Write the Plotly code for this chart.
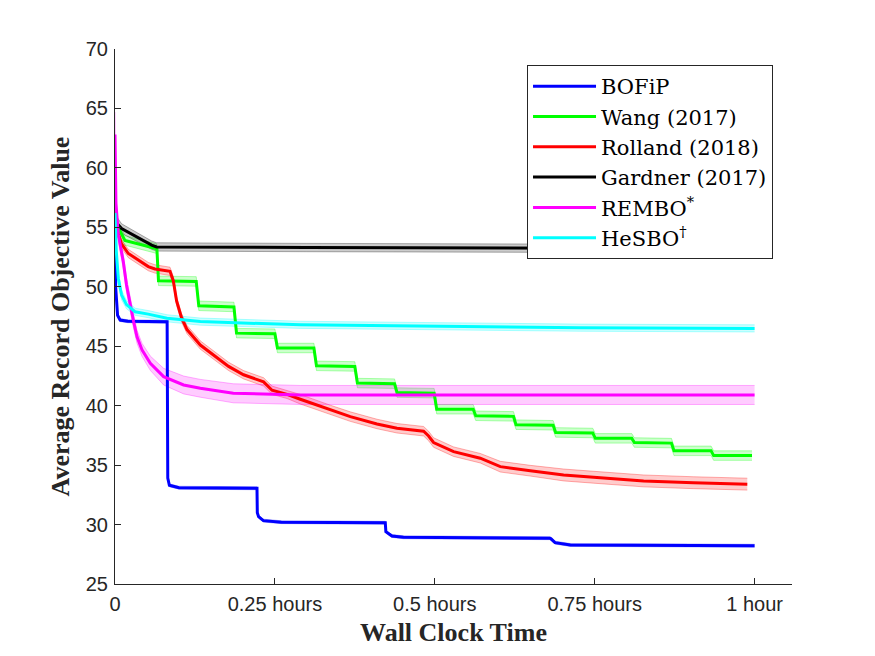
import plotly.graph_objs as go

# time in hours, values = average record objective, err = half width of shaded band
bofip_t = [0, 0.001, 0.004, 0.008, 0.02, 0.0815, 0.0825, 0.085, 0.1, 0.222, 0.2225, 0.2245, 0.232, 0.26,
           0.4226, 0.4235, 0.433, 0.451, 0.68, 0.6817, 0.688, 0.712, 1.0]
bofip_y = [56.2, 50.0, 47.6, 47.2, 47.1, 47.05, 33.9, 33.3, 33.1, 33.05, 31.0, 30.66, 30.33, 30.2,
           30.15, 29.4, 29.04, 28.93, 28.85, 28.8, 28.48, 28.28, 28.22]
bofip_err = [0.12] * len(bofip_t)

wang_t = [0, 0.003, 0.0155, 0.06, 0.0655, 0.068, 0.127, 0.131, 0.186, 0.190, 0.250, 0.254, 0.311, 0.315,
          0.375, 0.379, 0.437, 0.441, 0.499, 0.503, 0.560, 0.564, 0.623, 0.627, 0.685, 0.689, 0.747, 0.751,
          0.808, 0.812, 0.870, 0.874, 0.932, 0.936, 0.996]
wang_y = [56.5, 55.2, 53.9, 53.3, 53.2, 50.5, 50.45, 48.4, 48.3, 46.1, 46.05, 44.85, 44.85, 43.35,
          43.3, 41.9, 41.85, 41.1, 41.05, 39.7, 39.7, 39.15, 39.1, 38.4, 38.35, 37.75, 37.7, 37.25,
          37.25, 36.9, 36.85, 36.2, 36.2, 35.8, 35.8]
wang_err = [0.4] * len(wang_t)

rolland_t = [0, 0.004, 0.0103, 0.0208, 0.0364, 0.052, 0.0625, 0.074, 0.086, 0.0912, 0.0963, 0.104, 0.1126,
             0.1334, 0.1595, 0.1776, 0.201, 0.2323, 0.2455, 0.269, 0.2897, 0.3366, 0.3679, 0.4096, 0.4409,
             0.4825, 0.4903, 0.4981, 0.5294, 0.5711, 0.6024, 0.6493, 0.7014, 0.7483, 0.8265, 0.9046, 0.9886]
rolland_y = [55.5, 54.6, 53.6, 52.8, 52.25, 51.7, 51.5, 51.4, 51.3, 50.5, 48.8, 47.4, 46.4,
             45.1, 44.0, 43.3, 42.6, 42.0, 41.3, 40.95, 40.54, 39.64, 39.08, 38.46, 38.1,
             37.85, 37.45, 36.9, 36.13, 35.58, 34.87, 34.53, 34.17, 33.98, 33.67, 33.52, 33.4]
rolland_err = [0.35] * 20 + [0.4] * 10 + [0.45, 0.45, 0.5, 0.5, 0.5, 0.5, 0.5]

gardner_t = [0, 0.0103, 0.0573, 0.065, 0.3, 0.6, 1.0]
gardner_y = [55.5, 54.9, 53.5, 53.35, 53.3, 53.25, 53.2]
gardner_err = [0.6, 0.4, 0.35, 0.35, 0.35, 0.35, 0.35]

rembo_t = [0, 0.0015, 0.0052, 0.013, 0.018, 0.0235, 0.029, 0.0344, 0.0422, 0.0552, 0.076, 0.1073, 0.1334,
           0.185, 0.29, 1.0]
rembo_y = [62.8, 57.0, 54.4, 52.1, 50.15, 48.5, 47.1, 45.8, 44.7, 43.57, 42.44, 41.74, 41.46,
           41.04, 40.9, 40.9]
rembo_err = [1.9, 0.9, 0.6, 0.6, 0.6, 0.6, 0.6, 0.55, 0.55, 0.6, 0.7, 0.75, 0.75, 0.8, 0.8, 0.8]

hesbo_t = [0, 0.002, 0.0052, 0.0103, 0.018, 0.0313, 0.052, 0.0813, 0.1334, 0.29, 0.7275, 1.0]
hesbo_y = [56.2, 53.0, 50.7, 49.3, 48.5, 47.9, 47.7, 47.35, 47.07, 46.8, 46.56, 46.5]
hesbo_err = [0.6, 0.5, 0.45, 0.4, 0.35, 0.3, 0.3, 0.3, 0.3, 0.3, 0.3, 0.3]

series = [
    ('BOFiP', bofip_t, bofip_y, bofip_err, (0, 0, 255)),
    ('Wang (2017)', wang_t, wang_y, wang_err, (0, 255, 0)),
    ('Rolland (2018)', rolland_t, rolland_y, rolland_err, (255, 0, 0)),
    ('Gardner (2017)', gardner_t, gardner_y, gardner_err, (0, 0, 0)),
    ('REMBO<sup>*</sup>', rembo_t, rembo_y, rembo_err, (255, 0, 255)),
    ('HeSBO<sup>†</sup>', hesbo_t, hesbo_y, hesbo_err, (0, 255, 255)),
]

fig = go.Figure()

# shaded bands first so all lines sit on top
for name, t, y, err, c in series:
    rgb = '%d,%d,%d' % c
    lo = [v - e for v, e in zip(y, err)]
    hi = [v + e for v, e in zip(y, err)]
    fig.add_trace(go.Scatter(x=t, y=lo, mode='lines', showlegend=False, hoverinfo='skip',
                             line=dict(color='rgba(%s,0.3)' % rgb, width=1)))
    fig.add_trace(go.Scatter(x=t, y=hi, mode='lines', fill='tonexty', showlegend=False, hoverinfo='skip',
                             fillcolor='rgba(%s,0.2)' % rgb,
                             line=dict(color='rgba(%s,0.3)' % rgb, width=1)))

for name, t, y, err, c in series:
    fig.add_trace(go.Scatter(x=t, y=y, mode='lines', name=name, legendgroup=name,
                             line=dict(color='rgb(%d,%d,%d)' % c, width=3)))

axis_col = '#262626'
tick_font = dict(family='Liberation Sans', size=20, color=axis_col)
label_font = dict(family='Liberation Serif', size=26, color=axis_col)

# the page adds an 8px body margin, so the figure is 16px smaller than the window
fig.update_layout(
    width=859, height=640,
    margin=dict(l=107, r=75, t=41, b=64),
    plot_bgcolor='white', paper_bgcolor='white',
    showlegend=True,
    legend=dict(x=0.6086, y=0.970, xanchor='left', yanchor='top',
                bgcolor='white', bordercolor=axis_col, borderwidth=1,
                font=dict(family='DejaVu Serif', size=21, color='black'),
                itemwidth=63, tracegroupgap=0),
)
fig.update_xaxes(range=[0, 1.0585], tickvals=[0, 0.25, 0.5, 0.75, 1],
                 ticktext=['0', '0.25 hours', '0.5 hours', '0.75 hours', '1 hour'],
                 ticks='inside', ticklen=6, tickcolor=axis_col, automargin=False,
                 showline=True, linecolor=axis_col, linewidth=1, ticklabelstandoff=2,
                 showgrid=False, zeroline=False, tickfont=tick_font,
                 title=dict(text='<b>Wall Clock Time</b>', font=label_font, standoff=8))
fig.update_yaxes(range=[25, 70], dtick=5,
                 ticks='inside', ticklen=6, tickcolor=axis_col, automargin=False,
                 showline=True, linecolor=axis_col, linewidth=1, ticklabelstandoff=2,
                 showgrid=False, zeroline=False, tickfont=tick_font,
                 title=dict(text='<b>Average Record Objective Value</b>', font=label_font, standoff=8))

fig.write_html("out.html")
